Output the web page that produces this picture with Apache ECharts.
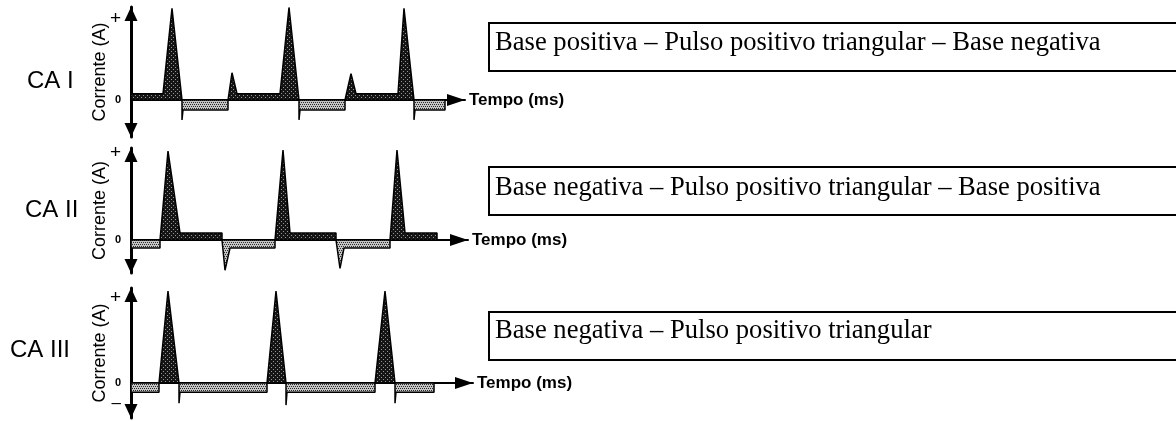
<!DOCTYPE html>
<html><head><meta charset="utf-8">
<script src="https://cdn.jsdelivr.net/npm/echarts@6/dist/echarts.min.js"></script>
<style>html,body{margin:0;padding:0;background:#fff}#c{width:1176px;height:421px}</style>
</head><body><div id="c"></div>
<script>
// ---------- data ----------
const panelNames = ['CA I', 'CA II', 'CA III'];
const boxTexts = [
  'Base positiva \u2013 Pulso positivo triangular \u2013 Base negativa',
  'Base negativa \u2013 Pulso positivo triangular \u2013 Base positiva',
  'Base negativa \u2013 Pulso positivo triangular'
];
const xAxisName = 'Tempo (ms)';
const yAxisName = 'Corrente (A)';
const yTickLabels = ['0', '+', '\u2013'];

// time (arbitrary ms) and current (arbitrary A, peak ~10)
const caI_time    = [0, 0, 32, 41, 51, 51, 52, 97, 97, 101, 106, 149, 158, 168, 168, 169, 214, 214, 220, 225, 267, 273, 283, 283, 284, 314, 314];
const caI_current = [0, 0.7, 0.7, 10.1, 0, -2.2, -1.1, -1.1, 0, 3.0, 0.7, 0.7, 10.2, 0, -2.2, -1.1, -1.1, 0, 2.9, 0.7, 0.7, 10.1, 0, -2.2, -1.1, -1.1, 0];

const caII_time    = [0, 0, 29, 29, 37, 49, 91, 91, 94, 99, 144, 144, 152, 159, 205, 205, 209, 213, 259, 259, 266, 274, 306, 306];
const caII_current = [0, -0.9, -0.9, 0, 10.0, 0.8, 0.8, 0, -3.4, -0.9, -0.9, 0, 10.1, 0.8, 0.8, 0, -3.2, -0.9, -0.9, 0, 10.1, 0.8, 0.8, 0];

const caIII_time    = [0, 0, 28, 28, 37, 48, 48, 49, 136, 136, 145, 155, 155, 156, 244, 244, 254, 264, 264, 265, 303, 303];
const caIII_current = [0, -1.0, -1.0, 0, 10.0, 0, -2.2, -1.0, -1.0, 0, 10.0, 0, -2.4, -1.0, -1.0, 0, 10.0, 0, -2.2, -1.0, -1.0, 0];

// y positions of the tick labels '0', '+', '–'
const caI_ticks   = [0, 8.9];
const caII_ticks  = [0, 9.8];
const caIII_ticks = [0, 9.3, -2.2];

// ---------- layout ----------
const layout = [
  {top: 7,   height: 130, width: 334, min: -4.08, max: 10.25, capY: 83.5, capX: 27, boxY: 23,  textY: 43},
  {top: 148, height: 125, width: 337, min: -3.71, max: 10.34, capY: 212.5, capX: 25, boxY: 167, textY: 188},
  {top: 288, height: 130, width: 342, min: -3.8,  max: 10.33, capY: 352.5, capX: 10, boxY: 312, textY: 331}
];
const series_data = [[caI_time, caI_current], [caII_time, caII_current], [caIII_time, caIII_current]];
const ticks = [caI_ticks, caII_ticks, caIII_ticks];

function pattern(bg, fg, pts) {
  const c = document.createElement('canvas');
  c.width = 4; c.height = 4;
  const g = c.getContext('2d');
  g.fillStyle = bg; g.fillRect(0, 0, 4, 4);
  g.fillStyle = fg;
  pts.forEach(p => g.fillRect(p[0], p[1], 1, 1));
  return {image: c, repeat: 'repeat'};
}
const darkFill = pattern('#151515', 'rgba(255,255,255,0.55)', [[1, 1], [3, 3]]);
const grayFill = pattern('#c4c4c4', '#2a2a2a', [[0, 0], [2, 0], [1, 2], [3, 2]]);

const grids = [], xAxes = [], yAxes = [], series = [], graphic = [];
layout.forEach((L, i) => {
  grids.push({left: 131, top: L.top, width: L.width, height: L.height, outerBoundsMode: 'none', containLabel: false});
  xAxes.push({
    type: 'value', gridIndex: i, min: 0, max: L.width,
    axisLine: {show: true, onZero: true, lineStyle: {color: '#000', width: 2},
      symbol: ['none', 'triangle'], symbolSize: [12, 18], symbolOffset: [0, -9]},
    axisTick: {show: false}, axisLabel: {show: false}, splitLine: {show: false},
    name: xAxisName, nameLocation: 'end', nameGap: 4,
    nameTextStyle: {color: '#000', fontSize: 17, fontWeight: 'bold', fontFamily: '"Liberation Sans", Arial, sans-serif', verticalAlign: 'middle'}
  });
  const tv = ticks[i];
  yAxes.push({
    type: 'value', gridIndex: i, min: L.min, max: L.max,
    axisLine: {show: true, onZero: false, lineStyle: {color: '#000', width: 3},
      symbol: ['triangle', 'triangle'], symbolSize: [13, 14], symbolOffset: [7, -7]},
    axisTick: {show: false}, splitLine: {show: false},
    axisLabel: {
      show: true, customValues: tv, margin: 10, showMinLabel: true, showMaxLabel: true,
      formatter: function (v) {
        const k = tv.indexOf(v);
        const txt = yTickLabels[k];
        return k === 0 ? '{z|' + txt + '}' : (k === 1 ? '{p|' + txt + '}' : '{m|' + txt + '}');
      },
      rich: {
        z: {fontSize: 11, fontWeight: 'bold', color: '#000', fontFamily: '"Liberation Sans", Arial, sans-serif'},
        p: {fontSize: 19, color: '#000', fontFamily: '"Liberation Sans", Arial, sans-serif'},
        m: {fontSize: 17, color: '#000', fontFamily: '"Liberation Sans", Arial, sans-serif'}
      }
    },
    name: yAxisName, nameLocation: 'middle', nameGap: 22, nameRotate: 90, nameMoveOverlap: false,
    nameTextStyle: {color: '#000', fontSize: 18, fontFamily: '"Liberation Sans", Arial, sans-serif'}
  });
  const [t, c] = series_data[i];
  const pos = t.map((x, k) => [x, Math.max(c[k], 0)]);
  const neg = t.map((x, k) => [x, Math.min(c[k], 0)]);
  [[neg, grayFill], [pos, darkFill]].forEach(([d, fill]) => {
    series.push({
      type: 'line', xAxisIndex: i, yAxisIndex: i, data: d, showSymbol: false, symbol: 'none',
      lineStyle: {color: '#000', width: 1.5}, areaStyle: {color: fill, opacity: 1, origin: 0},
      silent: true, z: 2
    });
  });
  graphic.push({type: 'text', left: L.capX, top: L.capY - 14,
    style: {text: panelNames[i], font: '24px "Liberation Sans", Arial, sans-serif', fill: '#000'}});
  graphic.push({type: 'rect', shape: {x: 489, y: L.boxY, width: 800, height: 48},
    style: {fill: '#fff', stroke: '#000', lineWidth: 2}});
  graphic.push({type: 'text', x: 495, y: L.textY,
    style: {text: boxTexts[i], font: '26.6px "Liberation Serif", "Times New Roman", serif', fill: '#000', verticalAlign: 'middle', align: 'left'}});
});

const chart = echarts.init(document.getElementById('c'), null, {renderer: 'canvas'});
chart.setOption({
  animation: false,
  backgroundColor: '#fff',
  grid: grids, xAxis: xAxes, yAxis: yAxes, series: series, graphic: graphic
});
</script>
</body></html>
